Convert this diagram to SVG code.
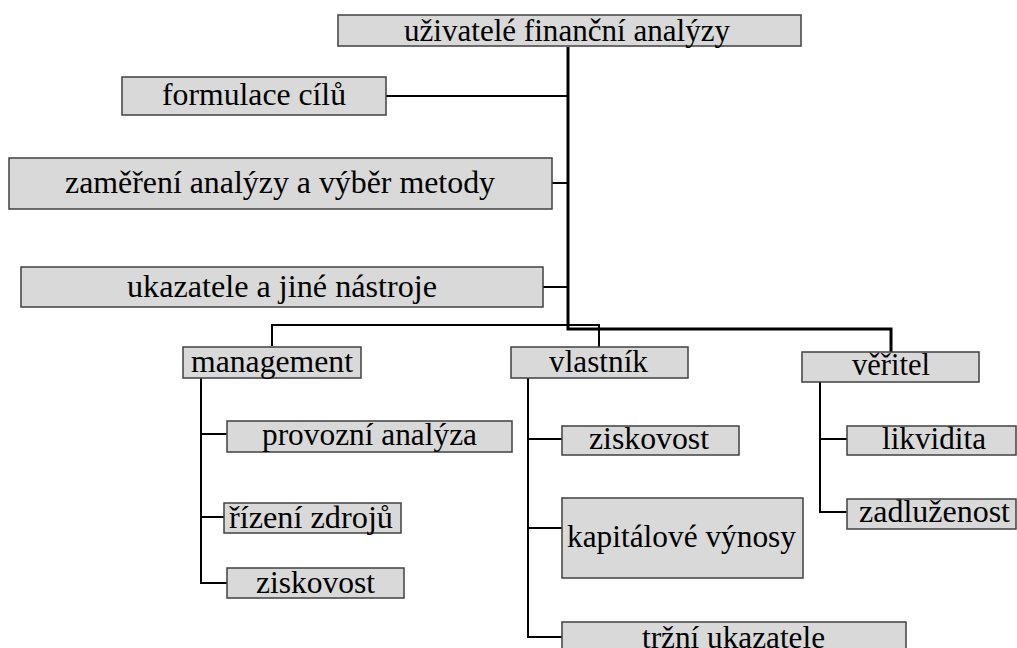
<svg xmlns="http://www.w3.org/2000/svg" width="1017" height="648" viewBox="0 0 1017 648" font-family="Liberation Serif, Times New Roman, Tinos, DejaVu Serif, serif">
<style>
.box{fill:#d9d9d9;stroke:#404040;stroke-width:1.5}
.t{font-size:32px;fill:#000;text-anchor:middle}
.c{fill:none;stroke:#000;stroke-width:2}
.trunk{fill:none;stroke:#000;stroke-width:3}
</style>
<rect width="1017" height="648" fill="#fff"/>
<g id="connectors">
<path class="trunk" d="M568,47 V329 H891 V352"/>
<path class="c" d="M272,346 V325 H599 V347"/>
<path class="c" d="M386,96 H568 M552,183 H568 M543,287 H568"/>
<path class="c" d="M201,378 V583 H227 M201,434 H227 M201,517 H224"/>
<path class="c" d="M528,378 V637 H562 M528,439 H562 M528,528 H562"/>
<path class="c" d="M820,382 V512 H847 M820,439 H847"/>
</g>
<g id="n-uzivatele"><rect class="box" x="338" y="15" width="463" height="31"/><text class="t" x="567" y="41" textLength="326" lengthAdjust="spacingAndGlyphs">uživatelé finanční analýzy</text></g>
<g id="n-formulace"><rect class="box" x="122" y="77" width="264" height="38"/><text class="t" x="254" y="105" textLength="184" lengthAdjust="spacingAndGlyphs">formulace cílů</text></g>
<g id="n-zamereni"><rect class="box" x="9" y="158" width="543" height="51"/><text class="t" x="280" y="193" textLength="430" lengthAdjust="spacingAndGlyphs">zaměření analýzy a výběr metody</text></g>
<g id="n-ukazatele"><rect class="box" x="21" y="267" width="522" height="40"/><text class="t" x="282" y="297" textLength="310" lengthAdjust="spacingAndGlyphs">ukazatele a jiné nástroje</text></g>
<g id="n-management"><rect class="box" x="183" y="347" width="178" height="31"/><text class="t" x="272" y="372" textLength="162" lengthAdjust="spacingAndGlyphs">management</text></g>
<g id="n-vlastnik"><rect class="box" x="511" y="347" width="177" height="31"/><text class="t" x="598.5" y="372" textLength="99" lengthAdjust="spacingAndGlyphs">vlastník</text></g>
<g id="n-veritel"><rect class="box" x="802" y="352" width="177" height="30"/><text class="t" x="891" y="375" textLength="78" lengthAdjust="spacingAndGlyphs">věřitel</text></g>
<g id="n-provozni"><rect class="box" x="227" y="421" width="285" height="31"/><text class="t" x="369.5" y="445" textLength="215" lengthAdjust="spacingAndGlyphs">provozní analýza</text></g>
<g id="n-rizeni"><rect class="box" x="224" y="503" width="177" height="30"/><text class="t" x="311" y="528" textLength="164" lengthAdjust="spacingAndGlyphs">řízení zdrojů</text></g>
<g id="n-ziskovost-m"><rect class="box" x="227" y="568" width="177" height="30"/><text class="t" x="315.5" y="593" textLength="119" lengthAdjust="spacingAndGlyphs">ziskovost</text></g>
<g id="n-ziskovost-v"><rect class="box" x="562" y="426" width="177" height="29"/><text class="t" x="649" y="449" textLength="120" lengthAdjust="spacingAndGlyphs">ziskovost</text></g>
<g id="n-kapitalove"><rect class="box" x="562" y="498" width="241" height="80"/><text class="t" x="681.5" y="547" textLength="229" lengthAdjust="spacingAndGlyphs">kapitálové výnosy</text></g>
<g id="n-trzni"><rect class="box" x="562" y="622" width="344" height="40"/><text class="t" x="733.5" y="648" textLength="183" lengthAdjust="spacingAndGlyphs">tržní ukazatele</text></g>
<g id="n-likvidita"><rect class="box" x="847" y="426" width="169" height="29"/><text class="t" x="934" y="449" textLength="104" lengthAdjust="spacingAndGlyphs">likvidita</text></g>
<g id="n-zadluzenost"><rect class="box" x="847" y="499" width="169" height="30"/><text class="t" x="934.5" y="522" textLength="151" lengthAdjust="spacingAndGlyphs">zadluženost</text></g>
</svg>
